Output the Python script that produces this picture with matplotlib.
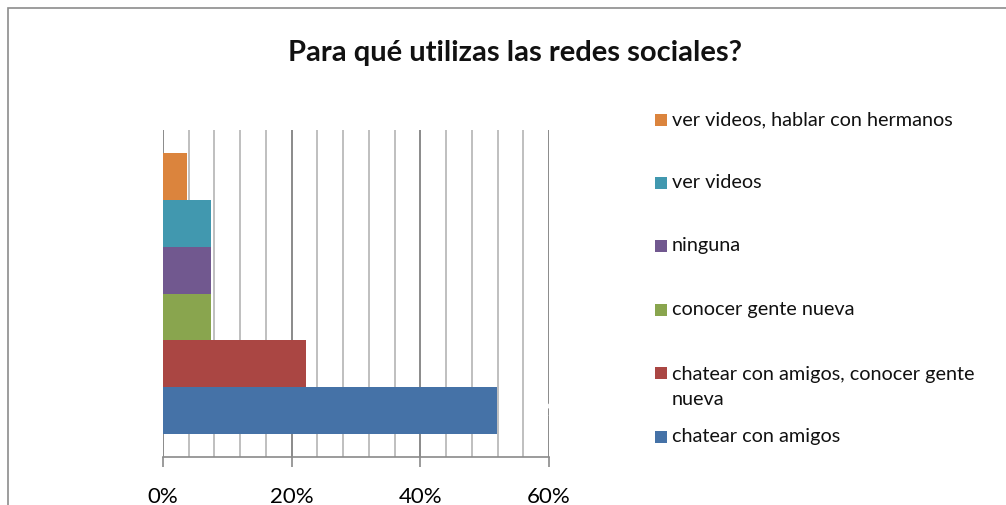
import matplotlib
matplotlib.use('Agg')
import matplotlib.pyplot as plt
from matplotlib.patches import Rectangle
from matplotlib.ticker import MultipleLocator, PercentFormatter

plt.rcParams['font.family'] = ['Lato', 'DejaVu Sans']

# datos (de abajo hacia arriba)
categorias = ['chatear con amigos', 'chatear con amigos, conocer gente\nnueva',
              'conocer gente nueva', 'ninguna', 'ver videos',
              'ver videos, hablar con hermanos']
valores = [14 / 27, 6 / 27, 2 / 27, 2 / 27, 2 / 27, 1 / 27]
colores = ['#4572A7', '#AA4643', '#89A54E', '#71588F', '#4198AF', '#DB843D']
titulo = 'Para qué utilizas las redes sociales?'

W, H = 1006, 506
fig = plt.figure(figsize=(W / 100, H / 100), dpi=100)
fig.patch.set_facecolor('white')

# marco del gráfico
fig.patches.append(Rectangle((8 / W, -0.01), 1.01 - 8 / W, 1 - 9 / H + 0.01,
                             transform=fig.transFigure, fill=False,
                             edgecolor='#8c8c8c', linewidth=1.2))

ax = fig.add_axes([163 / W, 1 - 458 / H, (549 - 163) / W, (458 - 131) / H])

for i, (v, c) in enumerate(zip(valores, colores)):
    ax.barh(i, v, height=1.0, color=c, zorder=3)

# etiqueta blanca (casi invisible en el original)
ax.annotate(f'{valores[0]:.0%}', (valores[0], 0), xytext=(22, 0),
            textcoords='offset points', color='white', fontsize=13,
            va='center', zorder=4)

ax.set_xlim(0, 0.6)
ax.set_ylim(-1.0, 6.0)
ax.xaxis.set_major_locator(MultipleLocator(0.2))
ax.xaxis.set_minor_locator(MultipleLocator(0.04))
ax.xaxis.set_major_formatter(PercentFormatter(1.0, decimals=0))
ax.grid(axis='x', which='minor', color='#bfbfbf', linewidth=1.4, zorder=0)
ax.grid(axis='x', which='major', color='#8a8a8a', linewidth=1.4, zorder=0)
ax.set_yticks([])
for s in ['top', 'right', 'left']:
    ax.spines[s].set_visible(False)
ax.spines['bottom'].set_color('#8a8a8a')
ax.spines['bottom'].set_linewidth(1.2)
ax.tick_params(axis='x', which='major', length=7, width=1.2, color='#8a8a8a',
               labelsize=16, pad=14)
ax.tick_params(axis='x', which='minor', length=0)
ax.set_facecolor('none')

fig.text(515 / W, 1 - 53 / H, titulo, ha='center', va='center',
         fontsize=21, fontweight='bold', color='#111111')

# leyenda (de arriba hacia abajo)
ys = [121, 184, 247, 311, 374, 438]
for y, lab, c in zip(ys, categorias[::-1], colores[::-1]):
    fig.patches.append(Rectangle((655 / W, 1 - (y + 6) / H), 12 / W, 12 / H,
                                 transform=fig.transFigure, facecolor=c,
                                 edgecolor='none'))
    if '\n' in lab:
        fig.text(672 / W, 1 - (y - 8) / H, lab, ha='left', va='top',
                 fontsize=14.3, color='#111111', linespacing=1.55)
    else:
        fig.text(672 / W, 1 - (y - 1) / H, lab, ha='left', va='center',
                 fontsize=14.3, color='#111111')

fig.savefig('out.png', dpi=100, facecolor='white')
